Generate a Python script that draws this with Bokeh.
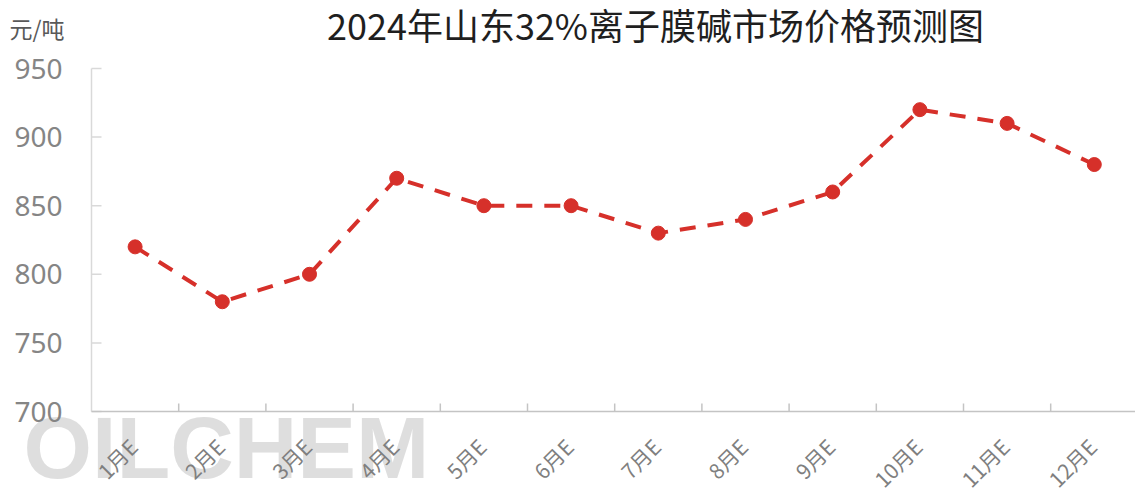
from bokeh.plotting import figure
from bokeh.models import Label, Range1d, ColumnDataSource
from bokeh.core.properties import value
from bokeh.embed import file_html
from bokeh.resources import INLINE
import math

title_text = "2024年山东32%离子膜碱市场价格预测图"
unit_text = "元/吨"
watermark_text = "OILCHEM"
months = ["1月E", "2月E", "3月E", "4月E", "5月E", "6月E", "7月E", "8月E", "9月E", "10月E", "11月E", "12月E"]
prices = [820, 780, 800, 870, 850, 850, 830, 840, 860, 920, 910, 880]
y_ticks = [700, 750, 800, 850, 900, 950]

# ---- layout (pixels) ----
W, H = 1135, 498
AX_LEFT = 91      # y-axis position
AX_BOTTOM = 411   # x-axis position (from top)
AX_TOP = 68       # 950 position (from top)
CAT_W = 87.2      # width of one category

RED = "#D6302A"
CJK = "Noto Sans CJK SC"

px_per_y = (AX_BOTTOM - AX_TOP) / (y_ticks[-1] - y_ticks[0])
x0 = -0.5 - AX_LEFT / CAT_W
x1 = x0 + W / CAT_W
y0 = y_ticks[0] - (H - AX_BOTTOM) / px_per_y
y1 = y_ticks[-1] + AX_TOP / px_per_y

xs = list(range(len(months)))
src = ColumnDataSource(dict(x=xs, y=prices))

p = figure(width=W, height=H, output_backend="svg", toolbar_location=None,
           x_range=Range1d(x0, x1), y_range=Range1d(y0, y1),
           x_axis_location=None, y_axis_location=None,
           min_border=0, min_border_left=0, min_border_right=0,
           min_border_top=0, min_border_bottom=0)
p.outline_line_color = None
p.grid.visible = False
p.background_fill_color = "white"
p.border_fill_color = "white"

# watermark
p.add_layout(Label(x=23, y=51, x_units="screen", y_units="screen", text=watermark_text,
                   text_font="Liberation Sans", text_font_style="bold", text_font_size="88px",
                   text_color="#d8d8d8", text_alpha=0.85, text_baseline="alphabetic",
                   level="underlay"))

# ---- y axis (drawn with the plot's own scales) ----
xl = -0.5
p.segment(x0=[xl], y0=[y_ticks[0]], x1=[xl], y1=[y_ticks[-1]],
          line_color="#d9d9d9", line_width=1.5)
p.segment(x0=[xl] * len(y_ticks), y0=y_ticks, x1=[xl + 10 / CAT_W] * len(y_ticks), y1=y_ticks,
          line_color="#d9d9d9", line_width=1.5)
p.text(x=[xl] * len(y_ticks), y=y_ticks, text=[str(v) for v in y_ticks],
       text_align="right", text_baseline="middle", x_offset=-29,
       text_font=value("Noto Sans"), text_font_size="28px", text_color="#858585")

# ---- x axis ----
bounds = [i + 0.5 for i in xs[:-1]]
p.segment(x0=[xl], y0=[y_ticks[0]], x1=[x1], y1=[y_ticks[0]],
          line_color="#c4c4c4", line_width=1.5)
p.segment(x0=bounds, y0=[y_ticks[0]] * len(bounds), x1=bounds,
          y1=[y_ticks[0] + 8 / px_per_y] * len(bounds),
          line_color="#c4c4c4", line_width=1.5)
p.text(x=xs, y=[y_ticks[0]] * len(xs), text=months, angle=math.pi / 4,
       text_align="right", text_baseline="middle", x_offset=-2, y_offset=31,
       text_font=value(CJK), text_font_size="21px", text_color="#7f7f7f")

# ---- data ----
p.line("x", "y", source=src, line_color=RED, line_width=4, line_dash="16 12")
p.scatter("x", "y", source=src, size=14, fill_color=RED, line_color=RED)

# unit label
p.add_layout(Label(x=9, y=H - 27, x_units="screen", y_units="screen", text=unit_text,
                   text_font=CJK, text_font_size="23px", text_color="#595959",
                   text_baseline="alphabetic"))

# title
p.add_layout(Label(x=655, y=H - 23, x_units="screen", y_units="screen", text=title_text,
                   text_font=CJK, text_font_size="36px", text_color="#1f1f1f",
                   text_align="center", text_baseline="alphabetic"))

open("out.html", "w").write(file_html(p, INLINE))
